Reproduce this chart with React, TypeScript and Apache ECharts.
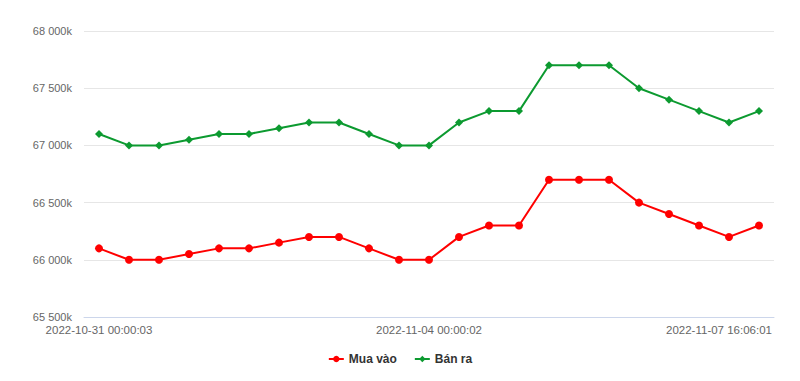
import React, { useEffect, useRef } from "react";
import * as echarts from "echarts";

const categories = [
  "2022-10-31 00:00:03", "2022-10-31 08:00:00", "2022-10-31 16:00:00",
  "2022-11-01 00:00:00", "2022-11-01 08:00:00", "2022-11-01 16:00:00",
  "2022-11-02 00:00:00", "2022-11-02 08:00:00", "2022-11-02 16:00:00",
  "2022-11-03 00:00:00", "2022-11-03 08:00:00", "2022-11-04 00:00:02",
  "2022-11-04 08:00:00", "2022-11-04 16:00:00", "2022-11-05 00:00:00",
  "2022-11-05 08:00:00", "2022-11-05 16:00:00", "2022-11-06 00:00:00",
  "2022-11-06 08:00:00", "2022-11-06 16:00:00", "2022-11-07 00:00:00",
  "2022-11-07 08:00:00", "2022-11-07 16:06:01",
];
const labeledIndices = [0, 11, 22];

const muaVao = [
  66100, 66000, 66000, 66050, 66100, 66100, 66150, 66200, 66200, 66100, 66000, 66000,
  66200, 66300, 66300, 66700, 66700, 66700, 66500, 66400, 66300, 66200, 66300,
];
const banRa = [
  67100, 67000, 67000, 67050, 67100, 67100, 67150, 67200, 67200, 67100, 67000, 67000,
  67200, 67300, 67300, 67700, 67700, 67700, 67500, 67400, 67300, 67200, 67300,
];

const FONT = "'Liberation Sans', Arial, sans-serif";

function fmtK(v: number) {
  const s = Math.round(v).toString().replace(/\B(?=(\d{3})+(?!\d))/g, " ");
  return s + "k";
}

export default function App() {
  const ref = useRef<HTMLDivElement>(null);
  useEffect(() => {
    if (!ref.current) return;
    const chart = echarts.init(ref.current, undefined, { renderer: "svg" });
    chart.setOption({
      animation: false,
      textStyle: { fontFamily: FONT },
      grid: { left: 84, right: 26, top: 31, bottom: 64, containLabel: false },
      legend: {
        top: 348,
        left: "center",
        itemWidth: 15,
        itemHeight: 8,
        itemGap: 17,
        textStyle: { color: "#333333", fontWeight: "bold", fontSize: 12, fontFamily: FONT },
        data: ["Mua vào", "Bán ra"],
      },
      xAxis: {
        type: "category",
        data: categories,
        boundaryGap: true,
        axisLine: { lineStyle: { color: "#ccd6eb", width: 1 } },
        axisTick: { show: false },
        axisLabel: {
          interval: (i: number) => labeledIndices.includes(i),
          color: "#666666",
          fontSize: 11.5,
          fontFamily: FONT,
          margin: 7,
          formatter: (v: string, i: number) =>
            i === categories.length - 1 ? "{last|" + v + "}" : v,
          rich: {
            last: { color: "#666666", fontSize: 11.5, fontFamily: FONT, padding: [0, 80, 0, 0] },
          },
        },
        splitLine: { show: false },
      },
      yAxis: {
        type: "value",
        min: 65500,
        max: 68000,
        interval: 500,
        axisLine: { show: false },
        axisTick: { show: false },
        axisLabel: {
          color: "#666666",
          fontSize: 11,
          fontFamily: FONT,
          margin: 12,
          formatter: (v: number) => fmtK(v),
        },
        splitLine: { lineStyle: { color: "#e6e6e6", width: 1 } },
      },
      series: [
        {
          name: "Mua vào",
          type: "line",
          data: muaVao,
          symbol: "circle",
          symbolSize: 8,
          showSymbol: true,
          lineStyle: { color: "#ff0000", width: 2 },
          itemStyle: { color: "#ff0000" },
        },
        {
          name: "Bán ra",
          type: "line",
          data: banRa,
          symbol: "diamond",
          symbolSize: 8,
          showSymbol: true,
          lineStyle: { color: "#0c9a30", width: 2 },
          itemStyle: { color: "#0c9a30" },
        },
      ],
    });
    return () => chart.dispose();
  }, []);
  return <div ref={ref} style={{ width: 800, height: 381, position: "absolute", left: 0, top: 0 }} />;
}
